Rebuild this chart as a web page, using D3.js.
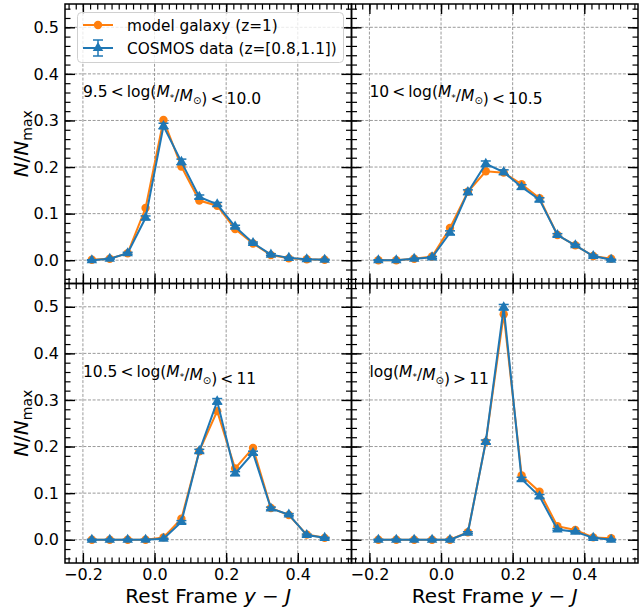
<!DOCTYPE html>
<html><head><meta charset="utf-8">
<script src="https://cdn.jsdelivr.net/npm/d3@7"></script>
<style>
body{margin:0;background:#fff}
svg{display:block;font-family:"DejaVu Sans",sans-serif}
</style>
</head><body>
<svg id="chart" width="639" height="607"></svg>
<script>
// ---------------- data ----------------
const xValues = [-0.175,-0.125,-0.075,-0.025,0.025,0.075,0.125,0.175,0.225,0.275,0.325,0.375,0.425,0.475];
const xTicks = [-0.2, 0.0, 0.2, 0.4];
const yTicks = [0.0, 0.1, 0.2, 0.3, 0.4, 0.5];
const xDomain = [-0.25, 0.55];
const yDomain = [-0.05, 0.55];

const seriesNames = ["model galaxy (z=1)", "COSMOS data (z=[0.8,1.1])"];
const xAxisLabel = "Rest Frame";

// panel 1: 9.5 < log M < 10.0
const model1  = [0.001,0.003,0.015,0.112,0.301,0.201,0.128,0.117,0.067,0.036,0.011,0.004,0.002,0.001];
const cosmos1 = [0.000,0.003,0.015,0.091,0.288,0.211,0.136,0.120,0.072,0.037,0.012,0.005,0.002,0.001];
const err1    = [0.001,0.001,0.002,0.004,0.006,0.006,0.004,0.004,0.003,0.002,0.002,0.001,0.001,0.001];
// panel 2: 10 < log M < 10.5
const model2  = [0.000,0.000,0.003,0.008,0.069,0.147,0.191,0.188,0.163,0.133,0.054,0.032,0.009,0.003];
const cosmos2 = [0.000,0.000,0.003,0.006,0.059,0.146,0.207,0.189,0.157,0.130,0.054,0.032,0.009,0.001];
const err2    = [0.001,0.001,0.001,0.002,0.004,0.005,0.006,0.005,0.005,0.004,0.003,0.002,0.002,0.001];
// panel 3: 10.5 < log M < 11
const model3  = [0.000,0.000,0.000,0.000,0.005,0.045,0.190,0.276,0.153,0.197,0.068,0.053,0.011,0.004];
const cosmos3 = [0.000,0.000,0.000,0.000,0.002,0.038,0.190,0.297,0.142,0.186,0.067,0.054,0.010,0.004];
const err3    = [0.001,0.001,0.001,0.001,0.001,0.003,0.004,0.006,0.004,0.004,0.003,0.002,0.002,0.001];
// panel 4: log M > 11
const model4  = [0.000,0.000,0.000,0.000,0.000,0.016,0.210,0.484,0.138,0.103,0.029,0.021,0.005,0.003];
const cosmos4 = [0.000,0.000,0.000,0.000,0.000,0.015,0.210,0.499,0.130,0.093,0.022,0.017,0.004,0.000];
const err4    = [0.001,0.001,0.001,0.001,0.001,0.002,0.004,0.006,0.004,0.004,0.002,0.002,0.001,0.001];

const panelLabelLo = ["9.5", "10", "10.5", null];
const panelLabelHi = ["10.0", "10.5", "11", "11"];

const models = [model1, model2, model3, model4];
const cosmos = [cosmos1, cosmos2, cosmos3, cosmos4];
const errs = [err1, err2, err3, err4];

// ---------------- layout ----------------
const ORANGE = "#ff7f0e", BLUE = "#1f77b4";
const padL = 65, padT = 4, pw = 286.5, ph = 279.5;
const svg = d3.select("#chart");
const fmt = d3.format(".1f");

function mathLabel(sel, i) {
  const sub = (s, fs) => { sel.append("tspan").attr("font-size", fs).attr("dy", 3.5).text(s);
                           sel.append("tspan").attr("dy", -3.5).text(""); };
  const lo = panelLabelLo[i];
  if (lo !== null) sel.append("tspan").text(lo + "\u2009<\u2009log(");
  else sel.append("tspan").text("log(");
  sel.append("tspan").attr("font-style", "italic").text("M");
  sub("*", 9);
  sel.append("tspan").text("/");
  sel.append("tspan").attr("font-style", "italic").text("M");
  sub("\u2299", 10);
  if (lo !== null) sel.append("tspan").text(")\u2009<\u2009" + panelLabelHi[i]);
  else sel.append("tspan").text(")\u2009>\u2009" + panelLabelHi[i]);
}

for (let i = 0; i < 4; i++) {
  const col = i % 2, row = Math.floor(i / 2);
  const x0 = padL + col * pw, y0 = padT + row * ph;
  const x = d3.scaleLinear(xDomain, [x0, x0 + pw]);
  const y = d3.scaleLinear(yDomain, [y0 + ph, y0]);
  const g = svg.append("g");

  // grid
  g.append("g").selectAll("line").data(xTicks).join("line")
    .attr("x1", d => x(d)).attr("x2", d => x(d)).attr("y1", y0).attr("y2", y0 + ph)
    .attr("stroke", "#9a9a9a").attr("stroke-width", 1).attr("stroke-dasharray", "3,1.6");
  g.append("g").selectAll("line").data(yTicks).join("line")
    .attr("y1", d => y(d)).attr("y2", d => y(d)).attr("x1", x0).attr("x2", x0 + pw)
    .attr("stroke", "#9a9a9a").attr("stroke-width", 1).attr("stroke-dasharray", "3,1.6");

  // model line + markers
  const line = d3.line().x((d, j) => x(xValues[j])).y(d => y(d));
  g.append("path").attr("d", line(models[i])).attr("fill", "none")
    .attr("stroke", ORANGE).attr("stroke-width", 2);
  g.append("g").selectAll("circle").data(models[i]).join("circle")
    .attr("cx", (d, j) => x(xValues[j])).attr("cy", d => y(d)).attr("r", 4.2).attr("fill", ORANGE);

  // cosmos errorbar series
  const cg = g.append("g");
  cg.append("path").attr("d", line(cosmos[i])).attr("fill", "none")
    .attr("stroke", BLUE).attr("stroke-width", 2);
  const eb = cg.append("g").selectAll("g").data(cosmos[i]).join("g");
  eb.append("line").attr("x1", (d, j) => x(xValues[j])).attr("x2", (d, j) => x(xValues[j]))
    .attr("y1", (d, j) => y(d - errs[i][j])).attr("y2", (d, j) => y(d + errs[i][j]))
    .attr("stroke", BLUE).attr("stroke-width", 1.5);
  [-1, 1].forEach(s => {
    eb.append("line").attr("x1", (d, j) => x(xValues[j]) - 5).attr("x2", (d, j) => x(xValues[j]) + 5)
      .attr("y1", (d, j) => y(d + s * errs[i][j])).attr("y2", (d, j) => y(d + s * errs[i][j]))
      .attr("stroke", BLUE).attr("stroke-width", 1.5);
  });
  cg.append("g").selectAll("path").data(cosmos[i]).join("path")
    .attr("d", d3.symbol(d3.symbolTriangle, 48))
    .attr("transform", (d, j) => `translate(${x(xValues[j])},${y(d)})`)
    .attr("fill", BLUE);

  // axes (ticks inward, all sides)
  const mk = (axisFn, scale, major, showLabels, tx, ty) => {
    const a = g.append("g").attr("transform", `translate(${tx},${ty})`)
      .call(axisFn(scale).tickValues(scale.ticks(scale === x ? 40 : 30)).tickSize(-5.5).tickFormat(""));
    a.select(".domain").remove();
    a.selectAll("line").attr("stroke", "#000").attr("stroke-width", 1.2);
    const b = g.append("g").attr("transform", `translate(${tx},${ty})`)
      .call(axisFn(scale).tickValues(major).tickSize(-10).tickPadding(6)
        .tickFormat(showLabels ? fmt : ""));
    b.select(".domain").remove();
    b.selectAll("line").attr("stroke", "#000").attr("stroke-width", 1.4);
    b.selectAll("text").attr("font-size", 16).attr("fill", "#000")
      .attr("font-family", "'DejaVu Sans',sans-serif");
  };
  mk(d3.axisBottom, x, xTicks, row === 1, 0, y0 + ph);
  mk(d3.axisTop, x, xTicks, false, 0, y0);
  mk(d3.axisLeft, y, yTicks, col === 0, x0, 0);
  mk(d3.axisRight, y, yTicks, false, x0 + pw, 0);

  // frame
  g.append("rect").attr("x", x0).attr("y", y0).attr("width", pw).attr("height", ph)
    .attr("fill", "none").attr("stroke", "#000").attr("stroke-width", 1.5);

  // panel annotation
  const t = g.append("text").attr("x", x(-0.2)).attr("y", y(0.35))
    .attr("font-size", 15.5).attr("fill", "#000");
  mathLabel(t, i);

  // x axis label
  if (row === 1) {
    const xl = svg.append("text").attr("x", x0 + pw / 2).attr("y", 603)
      .attr("text-anchor", "middle").attr("font-size", 20).attr("fill", "#000");
    xl.append("tspan").text(xAxisLabel + " ");
    xl.append("tspan").attr("font-style", "italic").text("y");
    xl.append("tspan").text(" \u2212 ");
    xl.append("tspan").attr("font-style", "italic").text("J");
  }
  // y axis label
  if (col === 0) {
    const yl = svg.append("text")
      .attr("transform", `translate(28,${y0 + ph / 2}) rotate(-90)`)
      .attr("text-anchor", "middle").attr("font-size", 20).attr("fill", "#000");
    yl.append("tspan").attr("font-style", "italic").text("N");
    yl.append("tspan").text("/");
    yl.append("tspan").attr("font-style", "italic").text("N");
    yl.append("tspan").attr("font-size", 14).attr("dy", 4).text("max");
  }
}

// ---------------- legend ----------------
const lg = svg.append("g");
lg.append("rect").attr("x", 77.5).attr("y", 12.5).attr("width", 266).attr("height", 50)
  .attr("rx", 4).attr("fill", "#fff").attr("fill-opacity", 0.8)
  .attr("stroke", "#d0d0d0").attr("stroke-width", 1);
const ly = [25, 48];
lg.append("line").attr("x1", 83).attr("x2", 113).attr("y1", ly[0]).attr("y2", ly[0])
  .attr("stroke", ORANGE).attr("stroke-width", 2);
lg.append("circle").attr("cx", 98).attr("cy", ly[0]).attr("r", 4.2).attr("fill", ORANGE);
lg.append("line").attr("x1", 83).attr("x2", 113).attr("y1", ly[1]).attr("y2", ly[1])
  .attr("stroke", BLUE).attr("stroke-width", 2);
lg.append("line").attr("x1", 98).attr("x2", 98).attr("y1", ly[1] - 8).attr("y2", ly[1] + 8)
  .attr("stroke", BLUE).attr("stroke-width", 1.5);
[-8, 8].forEach(o => lg.append("line").attr("x1", 93).attr("x2", 103)
  .attr("y1", ly[1] + o).attr("y2", ly[1] + o).attr("stroke", BLUE).attr("stroke-width", 1.5));
lg.append("path").attr("d", d3.symbol(d3.symbolTriangle, 48))
  .attr("transform", `translate(98,${ly[1]})`).attr("fill", BLUE);
lg.selectAll("text.leg").data(seriesNames).join("text").attr("class", "leg")
  .attr("x", 127).attr("y", (d, k) => ly[k] + 5.5).attr("font-size", 15.3).attr("fill", "#000")
  .text(d => d);
</script>
</body></html>
